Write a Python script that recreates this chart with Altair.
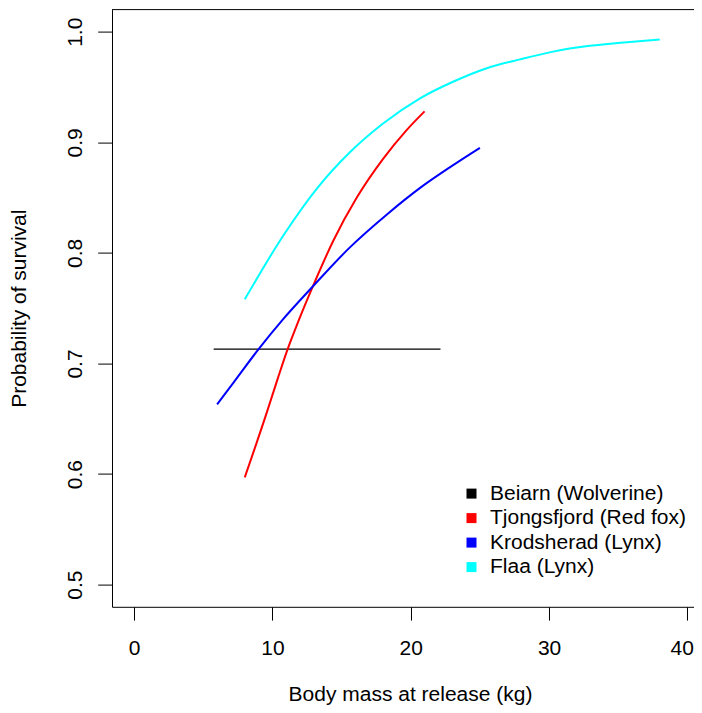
import altair as alt
import pandas as pd

# ---- data ----
series_names = ["Beiarn (Wolverine)", "Tjongsfjord (Red fox)", "Krodsherad (Lynx)", "Flaa (Lynx)"]
series_colors = ["#000000", "#FF0000", "#0000FF", "#00FFFF"]

beiarn_mass = [5.75, 22.15]
beiarn_surv = [0.713, 0.713]

tjong_mass = [8.0, 9.6, 10.4, 11.1, 11.9, 13.0, 14.4, 16.1, 18.0, 19.7, 21.0]
tjong_surv = [0.597, 0.656, 0.687, 0.713, 0.739, 0.772, 0.811, 0.850, 0.885, 0.911, 0.928]

krod_mass = [6.0, 7.2, 9.0, 10.7, 12.8, 15.6, 18.3, 20.7, 22.9, 25.0]
krod_surv = [0.663, 0.683, 0.713, 0.739, 0.768, 0.805, 0.835, 0.859, 0.878, 0.895]

flaa_mass = [8.0, 10.8, 13.2, 15.6, 18.0, 20.7, 23.1, 25.5, 27.9, 30.3, 32.8, 35.2, 38.0]
flaa_surv = [0.758, 0.816, 0.858, 0.891, 0.917, 0.940, 0.955, 0.967, 0.975, 0.982, 0.987, 0.990, 0.993]

x_ticks = [0, 10, 20, 30, 40]
y_ticks = [0.5, 0.6, 0.7, 0.8, 0.9, 1.0]
x_domain = [-1.6, 40.48]
y_domain = [0.48, 1.02]

# ---- build table ----
rows = []
for name, xs, ys in zip(series_names,
                        [beiarn_mass, tjong_mass, krod_mass, flaa_mass],
                        [beiarn_surv, tjong_surv, krod_surv, flaa_surv]):
    for i, (a, b) in enumerate(zip(xs, ys)):
        rows.append({"site": name, "mass": a, "surv": b, "i": i})
df = pd.DataFrame(rows)

W = 582
H = 597.2
FONT = "Liberation Sans"
FS = 21

lines = alt.Chart(df).mark_line(interpolate="monotone").encode(
    x=alt.X("mass:Q",
            scale=alt.Scale(domain=x_domain, nice=False, zero=False),
            axis=alt.Axis(values=x_ticks, format="d", grid=False,
                          tickSize=13.3, tickColor="#000", domainColor="#000",
                          labelPadding=34.3, labelBaseline="alphabetic",
                          labelFlush=8, labelFlushOffset=6,
                          labelFontSize=FS, labelFont=FONT, labelColor="#000",
                          title="Body mass at release (kg)",
                          titleFont=FONT, titleFontSize=FS, titleFontWeight="normal",
                          titleColor="#000", titleX=298, titleY=93.5,
                          titleAlign="center", titleBaseline="alphabetic")),
    y=alt.Y("surv:Q",
            scale=alt.Scale(domain=y_domain, nice=False, zero=False),
            axis=alt.Axis(values=y_ticks, format=".1f", grid=False,
                          tickSize=14.3, tickColor="#000", domainColor="#000",
                          labelPadding=16, labelAngle=270, labelAlign="center",
                          labelBaseline="alphabetic",
                          labelFontSize=FS, labelFont=FONT, labelColor="#000",
                          title="Probability of survival",
                          titleFont=FONT, titleFontSize=FS, titleFontWeight="normal",
                          titleColor="#000", titleAngle=270, titleX=-87, titleY=H / 2,
                          titleAlign="center", titleBaseline="alphabetic")),
    color=alt.Color("site:N",
                    scale=alt.Scale(domain=series_names, range=series_colors),
                    legend=alt.Legend(orient="none", legendX=349, legendY=473.5,
                                      title=None, symbolType="square",
                                      symbolSize=25, symbolStrokeWidth=5,
                                      labelFont=FONT, labelFontSize=FS,
                                      labelColor="#000", labelOffset=8,
                                      labelLimit=400, rowPadding=-0.5,
                                      padding=0)),
    strokeWidth=alt.condition(alt.datum.site == series_names[0],
                              alt.value(1.2), alt.value(2)),
    order="i:Q",
)

top_rule = alt.Chart(pd.DataFrame({"k": [0]})).mark_rule(color="#000", strokeWidth=1).encode(
    x=alt.value(0), x2=alt.value(W), y=alt.value(0)
)

chart = alt.layer(lines, top_rule).properties(
    width=W, height=H,
    autosize=alt.AutoSizeParams(type="none"),
    padding={"left": 104, "top": 1.6, "right": 0, "bottom": 98},
).configure_view(stroke=None)

chart.save("out.html", embed_options={"renderer": "svg", "actions": False})
